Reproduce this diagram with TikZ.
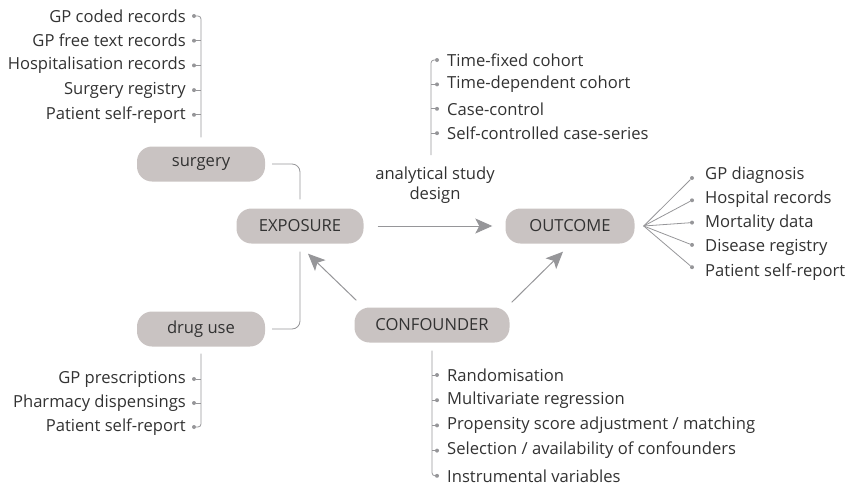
\documentclass[tikz,border=0pt]{standalone}
\usepackage{fontspec}
\setmainfont{Open Sans}
\usetikzlibrary{arrows.meta}
\definecolor{boxgray}{RGB}{201,195,194}
\definecolor{linegray}{RGB}{150,150,153}
\definecolor{textgray}{RGB}{50,50,50}

\begin{document}
\begin{tikzpicture}[x=1pt, y=-1pt, font=\fontsize{16.6}{20}\selectfont, text=textgray]
	\tikzset{
		box/.style={fill=boxgray, rounded corners=15pt, minimum height=35pt, inner xsep=0pt},
		item/.style={inner sep=0pt},
		tick/.style={draw=linegray, line width=0.8pt},
		bigarrow/.style={draw=linegray, line width=1pt, -{Stealth[length=17pt, width=15pt, inset=4pt]}},
		dot/.style={circle, fill=linegray, inner sep=0pt, minimum size=4pt}
	}
	\useasboundingbox (0, 0) rectangle (849, 488);

	\node[box, minimum width=128pt] (surgery) at (201, 164) {surgery};
	\node[box, minimum width=128pt] (druguse) at (201, 329) {drug use};
	\node[box, minimum width=127pt] (exposure) at (300, 226) {EXPOSURE};
	\node[box, minimum width=129pt] (outcome) at (570, 226) {OUTCOME};
	\node[box, minimum width=155pt] (confounder) at (432, 325) {CONFOUNDER};
	\node[align=center, inner sep=0pt, font=\fontsize{16.6}{20}\selectfont] (design) at (435, 185) {analytical study\\design};

	\draw[bigarrow, shorten <=14pt, shorten >=13pt] (exposure) -- (outcome);
	\draw[bigarrow] ([xshift=2pt, yshift=7pt]confounder.north west) -- ([xshift=8pt, yshift=-10pt]exposure.south);
	\draw[bigarrow] ([xshift=2pt, yshift=5pt]confounder.north east) -- ([xshift=-7pt, yshift=-8pt]outcome.south);

	\draw[tick, rounded corners=8pt] ([xshift=7pt]surgery.east) -| ([yshift=9pt]exposure.north);
	\draw[tick, rounded corners=8pt] ([xshift=7pt]druguse.east) -| ([yshift=-8pt]exposure.south);

	\foreach \t [count=\i] in {GP coded records, GP free text records, Hospitalisation records, Surgery registry, Patient self-report}{
		\node[dot] (sd\i) at (194, {16+24.7*(\i-1)}) {};
		\node[item, anchor=east] (st\i) at (186, {16+24.7*(\i-1)}) {\t};
	}
	\draw[tick, rounded corners=3pt] (sd1) -| ([yshift=9pt]surgery.north);
	\foreach \i in {2, ..., 5}
	\draw[tick] (sd\i) -- ++(7, 0);

	\foreach \t [count=\i] in {GP prescriptions, Pharmacy dispensings, Patient self-report}{
		\node[dot] (dd\i) at (194, {379+24*(\i-1)}) {};
		\node[item, anchor=east] (dt\i) at (186, {379+24*(\i-1)}) {\t};
	}
	\draw[tick, rounded corners=3pt] ([yshift=-7pt]druguse.south) |- (dd3);
	\foreach \i in {1, 2}
	\draw[tick] (dd\i) -- ++(7, 0);

	\coordinate (dtop) at (431, 155);
	\foreach \t [count=\i] in {Time-fixed cohort, Time-dependent cohort, Case-control, Self-controlled case-series}{
		\node[dot] (ad\i) at (437, {60+24.4*(\i-1)}) {};
		\node[item, anchor=west] (at\i) at (447, {60+24.4*(\i-1)}) {\t};
	}
	\draw[tick, rounded corners=3pt] (ad1) -| (dtop);
	\foreach \i in {2, 3, 4}
	\draw[tick] (ad\i) -- ++(-6, 0);

	\coordinate (fan) at ([xshift=9pt]outcome.east);
	\foreach \t [count=\i] in {GP diagnosis, Hospital records, Mortality data, Disease registry, Patient self-report}{
		\node[dot] (od\i) at (692, {178+22.3*(\i-1)}) {};
		\node[item, anchor=west] (ot\i) at (705, {175+24.2*(\i-1)}) {\t};
		\draw[tick] (fan) -- (od\i);
	}

	\foreach \t [count=\i] in {Randomisation, Multivariate regression, Propensity score adjustment / matching, Selection / availability of confounders, Instrumental variables}{
		\node[dot] (cd\i) at (437, {375+25.2*(\i-1)}) {};
		\node[item, anchor=west] (ct\i) at (447, {375+25.2*(\i-1)}) {\t};
	}
	\draw[tick, rounded corners=3pt] ([yshift=-8pt]confounder.south) |- (cd5);
	\foreach \i in {1, ..., 4}
	\draw[tick] (cd\i) -- ++(-5, 0);
\end{tikzpicture}
\end{document}
